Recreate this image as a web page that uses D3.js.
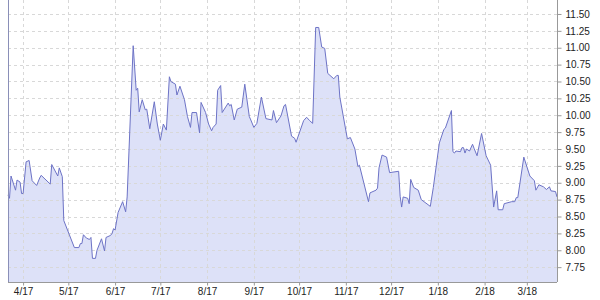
<!DOCTYPE html>
<html>
<head>
<meta charset="utf-8">
<script src="https://cdn.jsdelivr.net/npm/d3@7"></script>
<style>
  body { margin: 0; background: #fff; }
  text { font-family: "Liberation Sans", Arial, sans-serif; }
</style>
</head>
<body>
<div id="chart"></div>
<script>
// dates and closing values (one entry per vertex)
const dates = [
  "2017-03-22","2017-03-23","2017-03-24","2017-03-27","2017-03-28","2017-03-30","2017-03-31","2017-04-01",
  "2017-04-03","2017-04-05","2017-04-07","2017-04-10","2017-04-12","2017-04-13","2017-04-19","2017-04-20",
  "2017-04-24","2017-04-25","2017-04-27","2017-04-28","2017-05-05","2017-05-08","2017-05-09","2017-05-10",
  "2017-05-11","2017-05-13","2017-05-15","2017-05-16","2017-05-17","2017-05-19","2017-05-20","2017-05-23",
  "2017-05-25","2017-05-26","2017-05-29","2017-05-30","2017-05-31","2017-06-01","2017-06-03","2017-06-06",
  "2017-06-08","2017-06-09","2017-06-13","2017-06-15","2017-06-16","2017-06-17","2017-06-19","2017-06-21",
  "2017-06-22","2017-06-24","2017-06-27","2017-06-29","2017-07-01","2017-07-03","2017-07-05","2017-07-07",
  "2017-07-08","2017-07-11","2017-07-12","2017-07-14","2017-07-17","2017-07-19","2017-07-21","2017-07-22",
  "2017-07-25","2017-07-27","2017-07-28","2017-07-31","2017-08-02","2017-08-04","2017-08-05","2017-08-07",
  "2017-08-08","2017-08-10","2017-08-11","2017-08-15","2017-08-16","2017-08-17","2017-08-19","2017-08-21",
  "2017-08-24","2017-08-26","2017-08-29","2017-08-30","2017-09-01","2017-09-03","2017-09-06","2017-09-09",
  "2017-09-13","2017-09-14","2017-09-16","2017-09-19","2017-09-21","2017-09-22","2017-09-26","2017-09-28",
  "2017-09-29","2017-10-04","2017-10-06","2017-10-08","2017-10-10","2017-10-12","2017-10-14","2017-10-16",
  "2017-10-18","2017-10-20","2017-10-24","2017-10-26","2017-10-27","2017-10-28","2017-11-02","2017-11-04",
  "2017-11-07","2017-11-09","2017-11-10","2017-11-13","2017-11-16","2017-11-17","2017-11-21","2017-11-22",
  "2017-11-23","2017-11-25","2017-11-28","2017-11-30","2017-12-06","2017-12-07","2017-12-08","2017-12-09",
  "2017-12-12","2017-12-13","2017-12-14","2017-12-16","2017-12-19","2017-12-21","2017-12-27","2017-12-29",
  "2018-01-02","2018-01-05","2018-01-06","2018-01-10","2018-01-11","2018-01-12","2018-01-13","2018-01-16",
  "2018-01-17","2018-01-18","2018-01-19","2018-01-20","2018-01-22","2018-01-24","2018-01-25","2018-01-27",
  "2018-01-30","2018-02-02","2018-02-05","2018-02-07","2018-02-09","2018-02-10","2018-02-13","2018-02-14",
  "2018-02-19","2018-02-21","2018-02-22","2018-02-23","2018-02-27","2018-03-03","2018-03-06","2018-03-07",
  "2018-03-09","2018-03-12","2018-03-14","2018-03-16","2018-03-17","2018-03-20","2018-03-21"
];
const values = [
  8.82, 8.77, 9.10, 8.89, 9.04, 9.01, 8.84, 8.84,
  9.31, 9.33, 9.03, 8.96, 9.07, 9.11, 8.98, 9.27,
  9.10, 9.22, 9.09, 8.44, 8.04, 8.04, 8.10, 8.10,
  8.23, 8.18, 8.16, 8.19, 7.88, 7.88, 8.00, 8.17,
  7.99, 8.19, 8.22, 8.25, 8.32, 8.30, 8.56, 8.72,
  8.57, 8.79, 11.03, 10.37, 10.40, 10.05, 10.23, 10.08,
  10.09, 9.80, 10.20, 9.87, 9.63, 9.87, 9.78, 10.57,
  10.50, 10.46, 10.30, 10.43, 10.23, 9.98, 9.82, 10.04,
  10.04, 9.74, 10.19, 10.04, 9.87, 9.77, 9.82, 9.87,
  10.37, 10.44, 10.04, 10.18, 10.14, 10.16, 9.93, 10.09,
  10.12, 10.46, 9.98, 9.93, 9.82, 9.88, 10.27, 9.95,
  9.93, 10.07, 9.89, 9.99, 10.14, 10.16, 9.69, 9.66,
  9.60, 9.92, 9.97, 9.92, 9.88, 11.30, 11.30, 11.01,
  10.99, 10.62, 10.54, 10.59, 10.59, 10.27, 9.65, 9.67,
  9.50, 9.24, 9.26, 8.99, 8.72, 8.85, 8.89, 8.92,
  9.22, 9.41, 9.38, 9.15, 9.17, 8.80, 8.64, 8.79,
  8.77, 8.69, 9.05, 8.93, 8.89, 8.75, 8.65, 8.93,
  9.59, 9.79, 9.81, 10.07, 9.46, 9.44, 9.47, 9.46,
  9.52, 9.52, 9.44, 9.50, 9.47, 9.57, 9.51, 9.40,
  9.73, 9.40, 9.26, 8.64, 8.88, 8.60, 8.60, 8.69,
  8.72, 8.72, 8.78, 8.78, 9.38, 9.10, 9.03, 8.89,
  8.97, 8.94, 8.90, 8.94, 8.88, 8.87, 8.79
];

// tick values
const xTicks = ["2017-04-01","2017-05-01","2017-06-01","2017-07-01","2017-08-01","2017-09-01",
                "2017-10-01","2017-11-01","2017-12-01","2018-01-01","2018-02-01","2018-03-01"];
const yTicks = [7.75, 8.00, 8.25, 8.50, 8.75, 9.00, 9.25, 9.50, 9.75, 10.00, 10.25, 10.50, 10.75, 11.00, 11.25, 11.50];

const width = 600;
const height = 300;
const plotLeft = 8;
const plotRight = 557;
const plotTop = 0;
const plotBottom = 282;

const parse = d3.timeParse("%Y-%m-%d");
const data = dates.map((d, i) => ({ date: parse(d), value: values[i] }));

const svg = d3.select("#chart").append("svg")
  .attr("width", width)
  .attr("height", height);

const x = d3.scaleTime()
  .domain(d3.extent(data, d => d.date))
  .range([plotLeft, plotRight]);

// y axis: 11.50 sits at 14px, 0.25 step is ~16.9px
const y = d3.scaleLinear()
  .domain([7.53, 11.707])
  .range([plotBottom, plotTop]);

// area fill
svg.append("path")
  .datum(data)
  .attr("fill", "#dde1f8")
  .attr("d", d3.area()
    .x(d => x(d.date))
    .y0(plotBottom)
    .y1(d => y(d.value)));

// gridlines
svg.append("g")
  .selectAll("line")
  .data(yTicks)
  .join("line")
    .attr("x1", plotLeft)
    .attr("x2", plotRight)
    .attr("y1", d => Math.round(y(d)) + 0.5)
    .attr("y2", d => Math.round(y(d)) + 0.5)
    .attr("stroke", "#d8d8d8")
    .attr("stroke-dasharray", "3,3");

svg.append("g")
  .selectAll("line")
  .data(xTicks.map(parse))
  .join("line")
    .attr("x1", d => Math.round(x(d)) + 0.5)
    .attr("x2", d => Math.round(x(d)) + 0.5)
    .attr("y1", plotTop)
    .attr("y2", plotBottom)
    .attr("stroke", "#d8d8d8")
    .attr("stroke-dasharray", "3,3");

// the line itself
svg.append("path")
  .datum(data)
  .attr("fill", "none")
  .attr("stroke", "#6d73c6")
  .attr("stroke-width", 1)
  .attr("d", d3.line()
    .x(d => x(d.date))
    .y(d => y(d.value)));

// left edge
svg.append("line")
  .attr("x1", plotLeft + 0.5).attr("x2", plotLeft + 0.5)
  .attr("y1", plotTop).attr("y2", plotBottom)
  .attr("stroke", "#8a8fb8");

// right axis
const yAxis = svg.append("g")
  .attr("transform", `translate(${plotRight + 0.5}, 0)`)
  .call(d3.axisRight(y).tickValues(yTicks).tickFormat(d3.format(".2f")).tickSize(4).tickPadding(4));
yAxis.select(".domain").attr("stroke", "#999").attr("d", `M0,${plotTop}V${plotBottom}`);
yAxis.selectAll(".tick line").attr("stroke", "#999");
yAxis.selectAll("text").attr("fill", "#222").style("font-size", "10px");

// bottom axis
const xAxis = svg.append("g")
  .attr("transform", `translate(0, ${plotBottom + 0.5})`)
  .call(d3.axisBottom(x).tickValues(xTicks.map(parse)).tickFormat(d3.timeFormat("%-m/%y")).tickSize(3).tickPadding(2));
xAxis.select(".domain").attr("stroke", "#999").attr("d", `M${plotLeft},0H${plotRight}`);
xAxis.selectAll(".tick line").attr("stroke", "#999");
xAxis.selectAll("text").attr("fill", "#222").style("font-size", "10px");
</script>
</body>
</html>
